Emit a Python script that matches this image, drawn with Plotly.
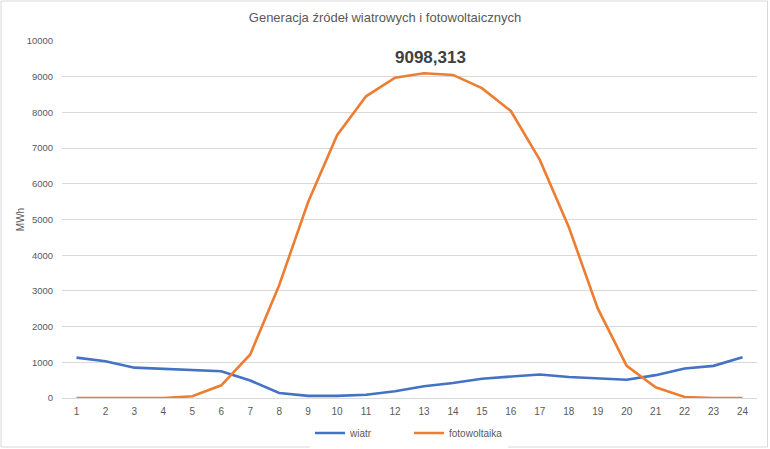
import plotly.graph_objs as go

# godziny doby
godziny = [str(h) for h in range(1, 25)]

# generacja [MWh]
wiatr = [1130, 1030, 850, 820, 790, 750, 490, 140, 60, 60, 90, 190,
         330, 420, 540, 590, 660, 590, 560, 510, 640, 825, 900, 1140]
fotowoltaika = [0, 0, 0, 0, 50, 355, 1220, 3160, 5490, 7360, 8450, 8970,
                9098.313, 9050, 8680, 8040, 6670, 4790, 2510, 900, 300, 30, 0, 0]

etykieta_max = "9098,313"

W, H = 770, 449
L, R, T, B = 62, 12.5, 41, 51
pw, ph = W - L - R, H - T - B
czcionka = "Liberation Sans Narrow, Arial Narrow, Liberation Sans, Arial"

fig = go.Figure()
fig.add_trace(go.Scatter(x=godziny, y=wiatr, name="wiatr", mode="lines",
                         line=dict(color="#4472C4", width=2.6)))
fig.add_trace(go.Scatter(x=godziny, y=fotowoltaika, name="fotowoltaika", mode="lines",
                         line=dict(color="#ED7D31", width=2.6)))

# etykieta maksimum (x jako indeks kategorii)
i_max = fotowoltaika.index(max(fotowoltaika))
fig.add_annotation(x=i_max, y=fotowoltaika[i_max], text="<b>" + etykieta_max + "</b>",
                   showarrow=False, yshift=16, xshift=7,
                   font=dict(family=czcionka, size=17, color="#404040"))

# ramka wykresu
fig.add_shape(type="rect", xref="paper", yref="paper",
              x0=(1 - L) / pw, x1=(W - 2 - L) / pw,
              y0=-(H - 2 - T - ph) / ph, y1=(H - B - 1) / ph,
              line=dict(color="#d9d9d9", width=1), layer="below")

fig.update_layout(
    width=W, height=H,
    margin=dict(l=L, r=R, t=T, b=B, autoexpand=False),
    paper_bgcolor="white", plot_bgcolor="white",
    font=dict(family=czcionka, size=10, color="#595959"),
    title=dict(text="Generacja źródeł wiatrowych i fotowoltaicznych", x=0.5, xref="container",
               xanchor="center", y=1 - 17 / H, yanchor="middle",
               font=dict(family=czcionka, size=13, color="#595959")),
    xaxis=dict(type="category", range=[-0.5, len(godziny) - 0.5], showgrid=False,
               zeroline=False, showline=False, automargin=False,
               ticks="outside", ticklen=4, tickcolor="rgba(0,0,0,0)",
               tickfont=dict(size=10, color="#595959")),
    yaxis=dict(range=[0, 10000], dtick=1000, tickformat="d", showgrid=True,
               gridcolor="#d9d9d9", gridwidth=1, automargin=False,
               zeroline=True, zerolinecolor="#d9d9d9", zerolinewidth=1, showline=False,
               ticks="outside", ticklen=6, tickcolor="rgba(0,0,0,0)",
               title=dict(text="MWh", font=dict(size=10, color="#595959"), standoff=0),
               tickfont=dict(size=9.5, color="#595959")),
    legend=dict(orientation="h", x=310 / W, xanchor="left", xref="container",
                y=(H - 433) / H, yanchor="middle", yref="container",
                itemwidth=30, entrywidth=54, font=dict(size=10, color="#595959")),
    showlegend=True,
)

fig.write_html("out.html", config={"displayModeBar": False},
               post_script="document.body.style.margin='0px';")
